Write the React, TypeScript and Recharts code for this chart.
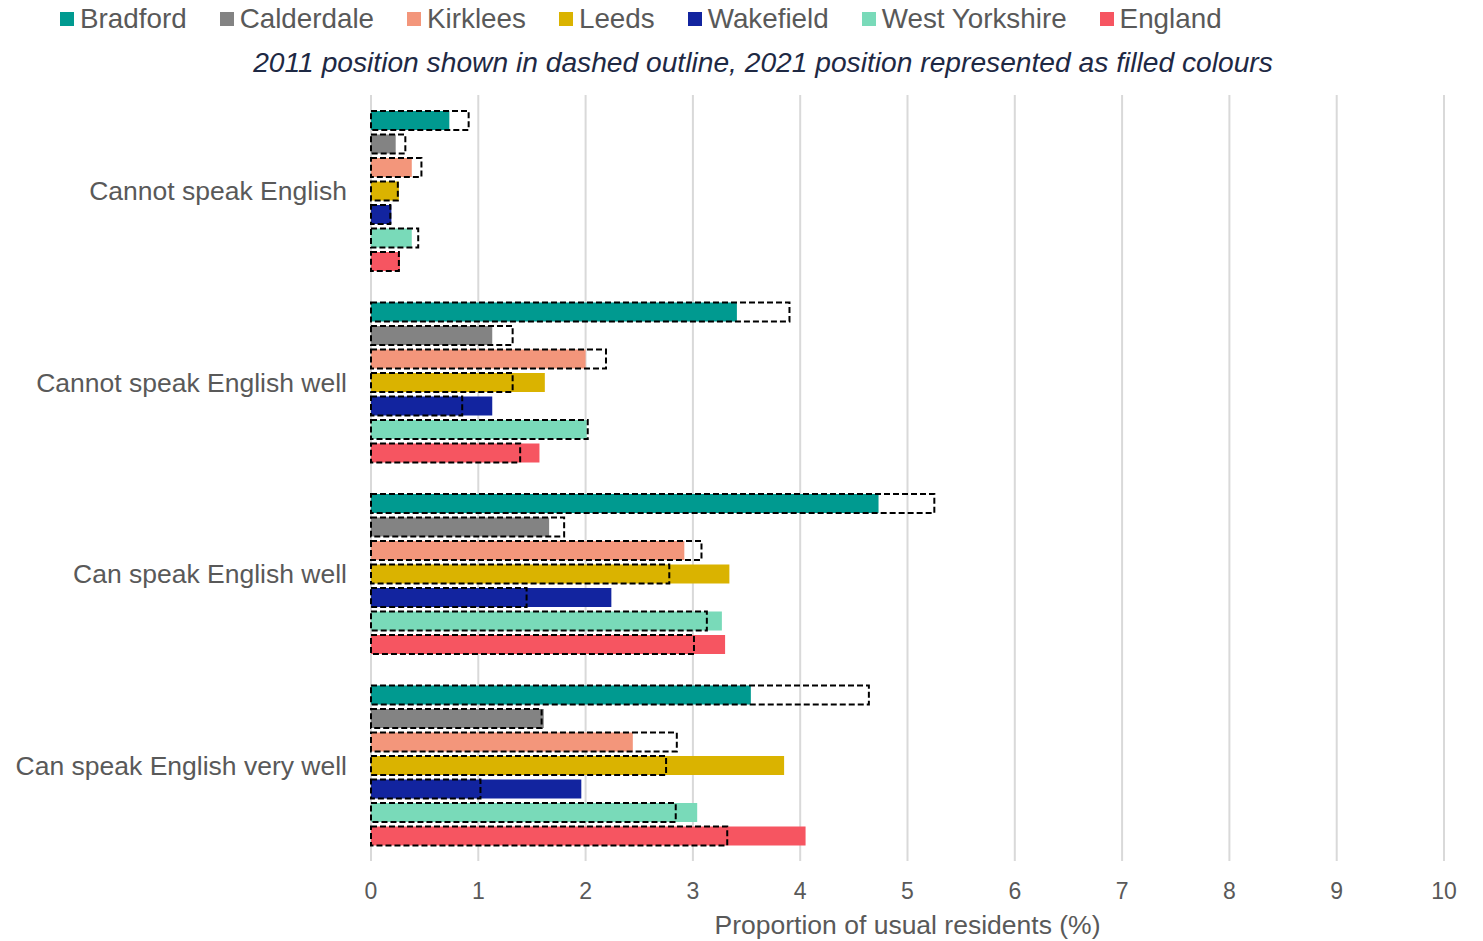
import React from 'react';
import { BarChart, Bar, XAxis, YAxis, CartesianGrid } from 'recharts';

const categories = [
  'Cannot speak English',
  'Cannot speak English well',
  'Can speak English well',
  'Can speak English very well',
];

// 2021 values (filled bars) and 2011 values (dashed outlines), % of usual residents
const bradford2021 = [0.73, 3.41, 4.73, 3.54];
const bradford2011 = [0.91, 3.9, 5.25, 4.64];
const calderdale2021 = [0.23, 1.13, 1.66, 1.61];
const calderdale2011 = [0.32, 1.32, 1.8, 1.59];
const kirklees2021 = [0.38, 2.0, 2.92, 2.44];
const kirklees2011 = [0.47, 2.19, 3.08, 2.85];
const leeds2021 = [0.26, 1.62, 3.34, 3.85];
const leeds2011 = [0.25, 1.32, 2.78, 2.75];
const wakefield2021 = [0.19, 1.13, 2.24, 1.96];
const wakefield2011 = [0.18, 0.85, 1.45, 1.02];
const westYorkshire2021 = [0.38, 2.01, 3.27, 3.04];
const westYorkshire2011 = [0.44, 2.02, 3.13, 2.84];
const england2021 = [0.27, 1.57, 3.3, 4.05];
const england2011 = [0.26, 1.39, 3.01, 3.32];

const xTicks = [0, 1, 2, 3, 4, 5, 6, 7, 8, 9, 10];

const series = [
  { name: 'Bradford', key: 'bradford', color: '#009a90', v21: bradford2021, v11: bradford2011 },
  { name: 'Calderdale', key: 'calderdale', color: '#838383', v21: calderdale2021, v11: calderdale2011 },
  { name: 'Kirklees', key: 'kirklees', color: '#f3967b', v21: kirklees2021, v11: kirklees2011 },
  { name: 'Leeds', key: 'leeds', color: '#dab300', v21: leeds2021, v11: leeds2011 },
  { name: 'Wakefield', key: 'wakefield', color: '#12249f', v21: wakefield2021, v11: wakefield2011 },
  { name: 'West Yorkshire', key: 'westYorkshire', color: '#79dab9', v21: westYorkshire2021, v11: westYorkshire2011 },
  { name: 'England', key: 'england', color: '#f65561', v21: england2021, v11: england2011 },
];

const data = categories.map((name, i) => {
  const row: any = { name };
  series.forEach((s) => {
    row[s.key] = s.v21[i];
    row[s.key + '2011'] = s.v11[i];
  });
  return row;
});

const FONT = '"Liberation Sans", Arial, sans-serif';

// filled 2021 bar plus a dashed outline for 2011, scaled from the bar's own width
const makeShape = (key: string) => (props: any) => {
  const { x, y, width, height, fill, payload } = props;
  const v21 = payload[key];
  const v11 = payload[key + '2011'];
  const w11 = v21 ? (width * v11) / v21 : 0;
  return (
    <g>
      <rect x={x} y={y} width={width} height={height} fill={fill} />
      <rect
        x={x}
        y={y}
        width={w11}
        height={height}
        fill="none"
        stroke="#000"
        strokeWidth={2}
        strokeDasharray="6 3"
      />
    </g>
  );
};

const App: React.FC = () => {
  return (
    <div style={{ position: 'absolute', left: 0, top: 0, width: 1483, height: 941, background: '#fff', fontFamily: FONT }}>
      <div style={{ position: 'absolute', left: 60, top: 5, display: 'flex', fontSize: 27.8, lineHeight: '27px', color: '#595959' }}>
        {series.map((s) => (
          <div key={s.key} style={{ display: 'flex', alignItems: 'center', marginRight: 33 }}>
            <span style={{ width: 14, height: 14, background: s.color, marginRight: 6, display: 'inline-block' }} />
            <span>{s.name}</span>
          </div>
        ))}
      </div>
      <div
        style={{
          position: 'absolute',
          left: 213,
          width: 1100,
          top: 48,
          textAlign: 'center',
          fontSize: 28.2,
          lineHeight: '28px',
          fontStyle: 'italic',
          color: '#1e2944',
          whiteSpace: 'nowrap',
        }}
      >
        2011 position shown in dashed outline, 2021 position represented as filled colours
      </div>
      <BarChart
        width={1483}
        height={941}
        data={data}
        layout="vertical"
        margin={{ top: 95, right: 39, bottom: 0, left: 0 }}
        barCategoryGap={16}
        barGap={4.5}
        style={{ fontFamily: FONT }}
      >
        <CartesianGrid horizontal={false} stroke="#d9d9d9" strokeWidth={2} />
        <XAxis
          type="number"
          domain={[0, 10]}
          ticks={xTicks}
          height={80}
          axisLine={false}
          tickLine={false}
          tickMargin={16}
          tick={{ fill: '#595959', fontSize: 23 }}
          label={{ value: 'Proportion of usual residents (%)', position: 'insideBottom', offset: 7, fill: '#595959', fontSize: 26.5 }}
        />
        <YAxis
          type="category"
          dataKey="name"
          width={371}
          axisLine={false}
          tickLine={false}
          tickMargin={18}
          tick={{ fill: '#595959', fontSize: 26.5 }}
        />
        {series.map((s) => (
          <Bar key={s.key} dataKey={s.key} name={s.name} fill={s.color} shape={makeShape(s.key)} isAnimationActive={false} />
        ))}
      </BarChart>
    </div>
  );
};

export default App;
